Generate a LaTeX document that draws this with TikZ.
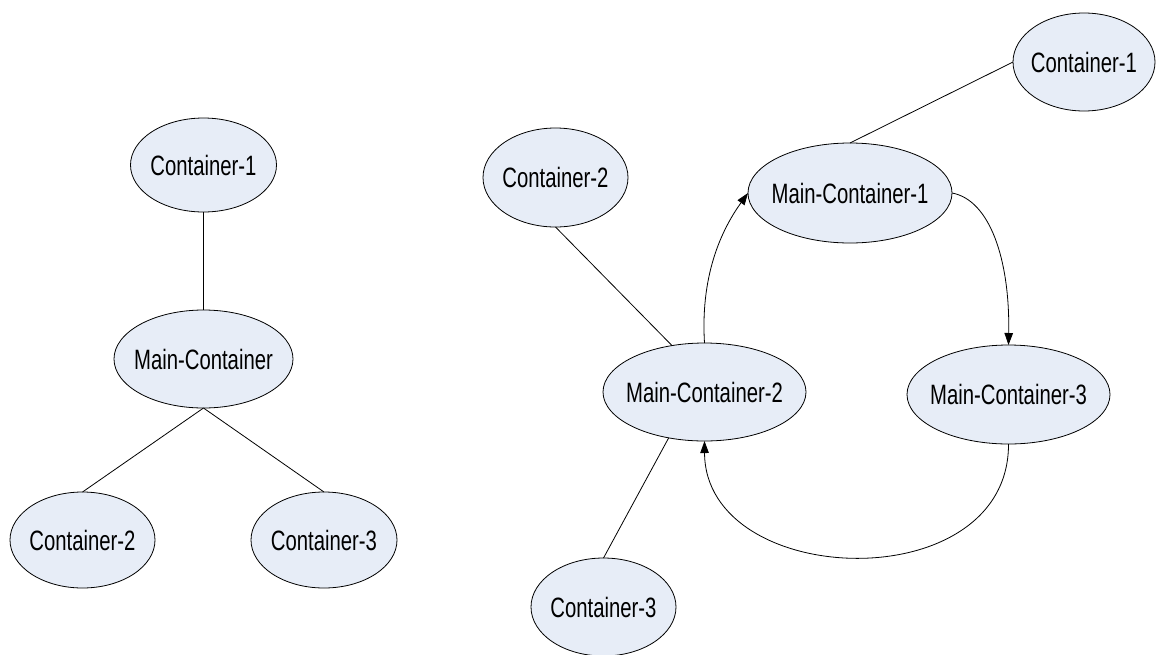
\documentclass[tikz,border=0pt]{standalone}
\usepackage{fontspec}
\newfontfamily\lblfont{Liberation Sans}[FakeStretch=0.725]
\usetikzlibrary{shapes.geometric,arrows.meta}
\definecolor{ellfill}{RGB}{231,237,247}
\tikzset{
  ell/.style={ellipse, draw=black, line width=0.8pt, fill=ellfill, inner sep=0pt, outer sep=0pt,
    font=\lblfont\fontsize{28}{31}\selectfont},
  conn/.style={draw=black, line width=0.8pt},
  arr/.style={conn, -{Triangle[length=12pt,width=8.5pt]}}
}
\newcommand{\ctext}[1]{\makebox[0pt]{#1}}
\begin{document}
\begin{tikzpicture}[x=1pt,y=-1pt]
\useasboundingbox (0,0) rectangle (1156,654);
% left graph
\node[ell, minimum width=146pt, minimum height=94pt] (lc1) at (203.5,165) {\ctext{Container-1}};
\node[ell, minimum width=179pt, minimum height=98pt] (lmc) at (203.5,359) {\ctext{Main-Container}};
\node[ell, minimum width=145pt, minimum height=96pt] (lc2) at (82.5,540) {\ctext{Container-2}};
\node[ell, minimum width=146pt, minimum height=96pt] (lc3) at (324,540) {\ctext{Container-3}};
\draw[conn] (lc1.south) -- (lmc.north);
\draw[conn] (lmc.south) -- (lc2.north);
\draw[conn] (lmc.south) -- (lc3.north);
% right graph
\node[ell, minimum width=145pt, minimum height=99pt] (rc2) at (555.5,177.5) {\ctext{Container-2}};
\node[ell, minimum width=142pt, minimum height=98pt] (rc1) at (1084,62) {\ctext{Container-1}};
\node[ell, minimum width=204pt, minimum height=100pt] (mc1) at (850,193) {\ctext{Main-Container-1}};
\node[ell, minimum width=203pt, minimum height=98pt] (mc2) at (704.5,392) {\ctext{Main-Container-2}};
\node[ell, minimum width=203pt, minimum height=99pt] (mc3) at (1008.5,394.5) {\ctext{Main-Container-3}};
\node[ell, minimum width=145pt, minimum height=98pt] (rc3) at (603.5,607) {\ctext{Container-3}};
\draw[conn] (rc1.west) -- (mc1.north);
\draw[conn] (rc2.south) -- (mc2.125);
\draw[conn] (rc3.north) -- (mc2.232);
\draw[arr] (mc2.north) .. controls (700,270) and (725,225) .. (mc1.west);
\draw[arr] (mc1.east) .. controls (990,200) and (1010,260) .. (mc3.north);
\draw[arr] (mc3.south) .. controls (1009,600) and (705,590) .. (mc2.south);
\end{tikzpicture}
\end{document}
